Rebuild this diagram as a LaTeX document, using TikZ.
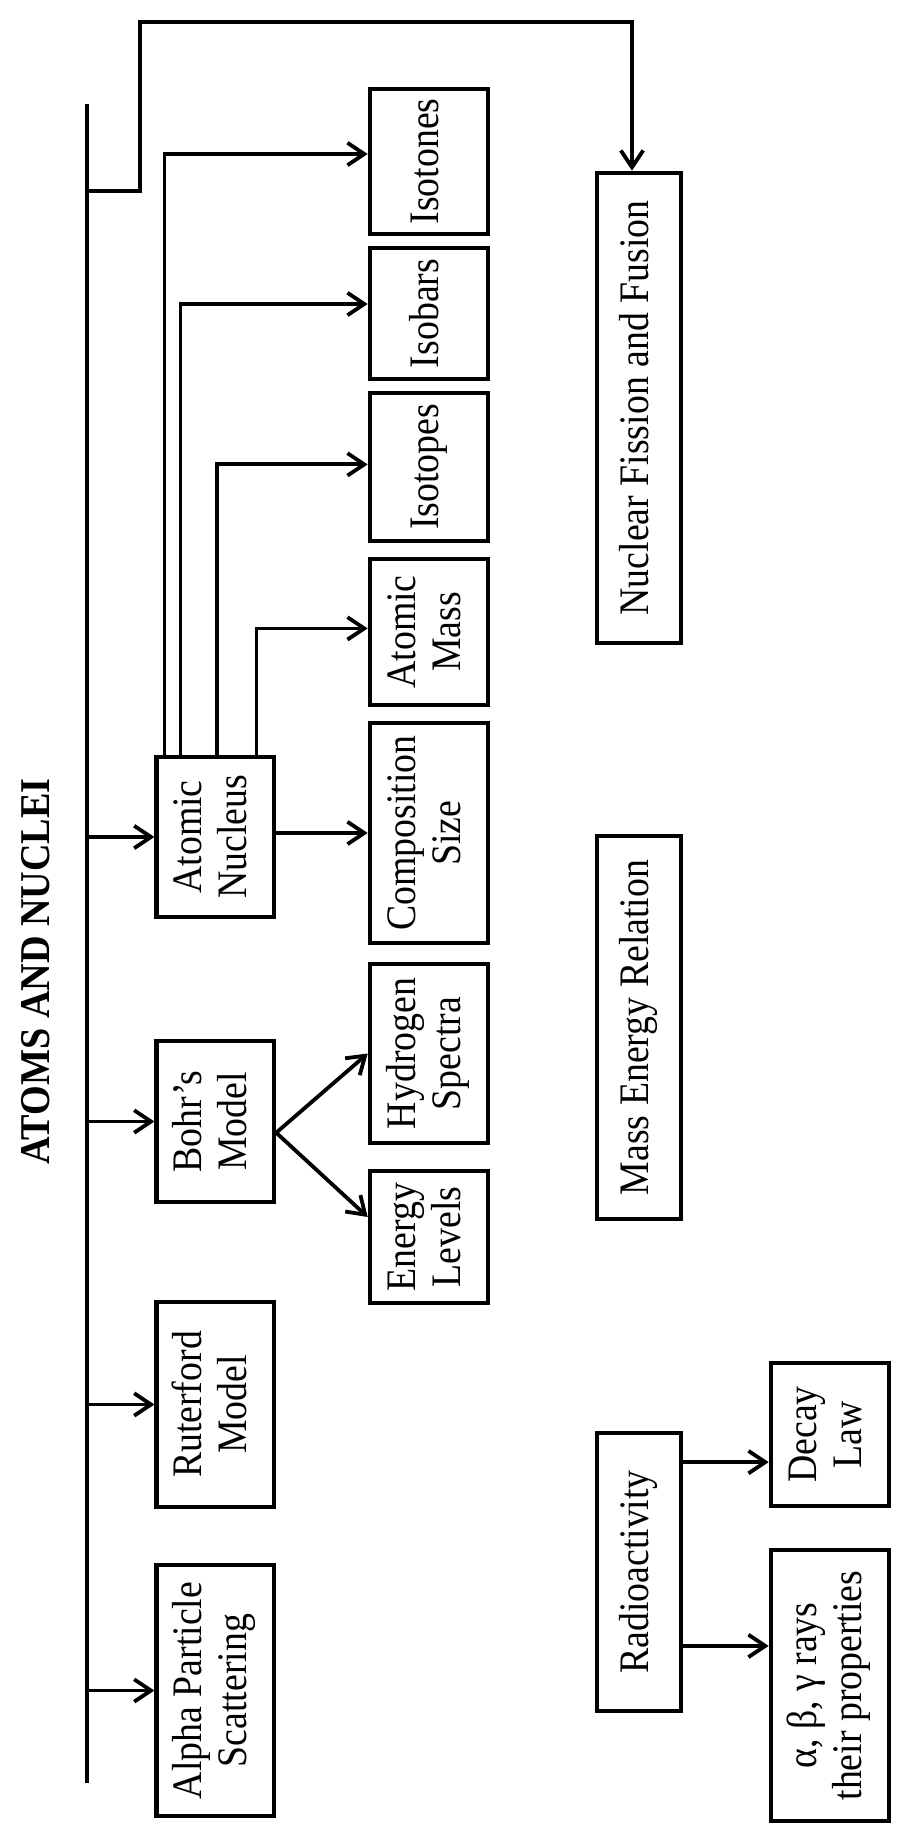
\documentclass[tikz,border=0pt]{standalone}
\usepackage{fontspec}
\setmainfont{Liberation Serif}
\usepackage{graphicx}
\usetikzlibrary{arrows.meta}
\newcommand{\rtext}[1]{\rotatebox{90}{\scalebox{0.9}[1]{\fontsize{10.5}{11.25}\selectfont\renewcommand{\arraystretch}{1}\begin{tabular}{@{}c@{}}#1\end{tabular}}}}
\tikzset{
  box/.style={draw, line width=1.15pt, inner sep=0pt, rectangle},
  boxA/.style={box, minimum width=29.3pt},
  boxB/.style={box, minimum width=29.5pt},
  boxC/.style={box, minimum width=21pt},
  boxD/.style={box, minimum width=29.5pt},
  conn/.style={line width=0.95pt},
  arr/.style={conn, -{Straight Barb[length=4.2pt,width=5.6pt]}},
}
\begin{document}
\begin{tikzpicture}[x=0.25pt,y=-0.25pt]
\useasboundingbox (0,0) rectangle (913,1838);
\fill[white] (0,0) rectangle (913,1838);

% title
\node (title) at (36,971.5) {\rotatebox{90}{\scalebox{0.9}[1]{\fontsize{10.6}{11.25}\selectfont\bfseries ATOMS AND NUCLEI}}};

% column A
\node[boxA, minimum height=40pt]    (nucleus) at (215.3,837)   {\rtext{Atomic\\Nucleus}};
\node[boxA, minimum height=40.25pt] (bohr)    at (215.3,1121.5){\rtext{Bohr’s\\Model}};
\node[boxA, minimum height=51.25pt] (ruter)   at (215.3,1404.5){\rtext{Ruterford\\Model}};
\node[boxA, minimum height=62.75pt] (alpha)   at (215.3,1690.5){\rtext{Alpha Particle\\Scattering}};

% column B
\node[boxB, minimum height=36.25pt] (isotones) at (429,161.5) {\rtext{Isotones}};
\node[boxB, minimum height=32.75pt] (isobars)  at (429,313.5) {\rtext{Isobars}};
\node[boxB, minimum height=37pt]    (isotopes) at (429,467)   {\rtext{Isotopes}};
\node[boxB, minimum height=36.5pt]  (amass)    at (429,632)   {\rtext{Atomic\\Mass}};
\node[boxB, minimum height=55pt]    (comp)     at (429,833)   {\rtext{Composition\\Size}};
\node[boxB, minimum height=44.75pt] (hydro)    at (429,1053.5){\rtext{Hydrogen\\Spectra}};
\node[boxB, minimum height=33pt]    (energy)   at (429,1237)  {\rtext{Energy\\Levels}};

% column C
\node[boxC, minimum height=117.5pt] (fission) at (639,408)    {\rtext{Nuclear Fission and Fusion}};
\node[boxC, minimum height=95.75pt] (masse)   at (639,1027.5) {\rtext{Mass Energy Relation}};
\node[boxC, minimum height=69.5pt]  (radio)   at (639,1572)   {\rtext{Radioactivity}};

% column D
\node[boxD, minimum height=35.75pt] (decay) at (830,1434.5) {\rtext{Decay\\Law}};
\node[boxD, minimum height=67.75pt] (rays)  at (830,1685.5) {\rtext{α, β, γ rays\\their properties}};

% main spine
\coordinate (mtop) at (87,104);
\coordinate (mbot) at (87,1783);
\coordinate (fb) at (87,191);
\coordinate (fc) at (140,22);
\draw[conn] (mtop) -- (mbot);

\draw[arr] (mtop |- nucleus.west) -- (nucleus.west);
\draw[arr] (mtop |- bohr.west) -- (bohr.west);
\draw[arr] (mtop |- ruter.west) -- (ruter.west);
\draw[arr] (mtop |- alpha.west) -- (alpha.west);

% to fission
\draw[arr] (fb) -| (fc) -| ([xshift=-1.75pt]fission.north);

% from nucleus
\draw[arr] ([xshift=2.5pt]nucleus.north west) |- ([yshift=1.875pt]isotones.west);
\draw[arr] ([xshift=6.5pt]nucleus.north west) |- ([yshift=2.375pt]isobars.west);
\draw[arr] ([xshift=15.6pt]nucleus.north west) |- ([yshift=0.65pt]isotopes.west);
\draw[arr] ([xshift=25.5pt]nucleus.north west) |- ([yshift=0.9pt]amass.west);
\draw[arr] (nucleus.east |- comp.west) -- (comp.west);

% from Bohr
\draw[arr] ([yshift=-2.8pt]bohr.east) -- (hydro.west);
\draw[arr] ([yshift=-2.8pt]bohr.east) -- ([yshift=5pt]energy.west);

% from radioactivity
\draw[arr] ([yshift=-6.9pt]decay.west -| radio.east) -- ([yshift=-6.9pt]decay.west);
\draw[arr] ([yshift=9.9pt]rays.west -| radio.east) -- ([yshift=9.9pt]rays.west);
\end{tikzpicture}
\end{document}
